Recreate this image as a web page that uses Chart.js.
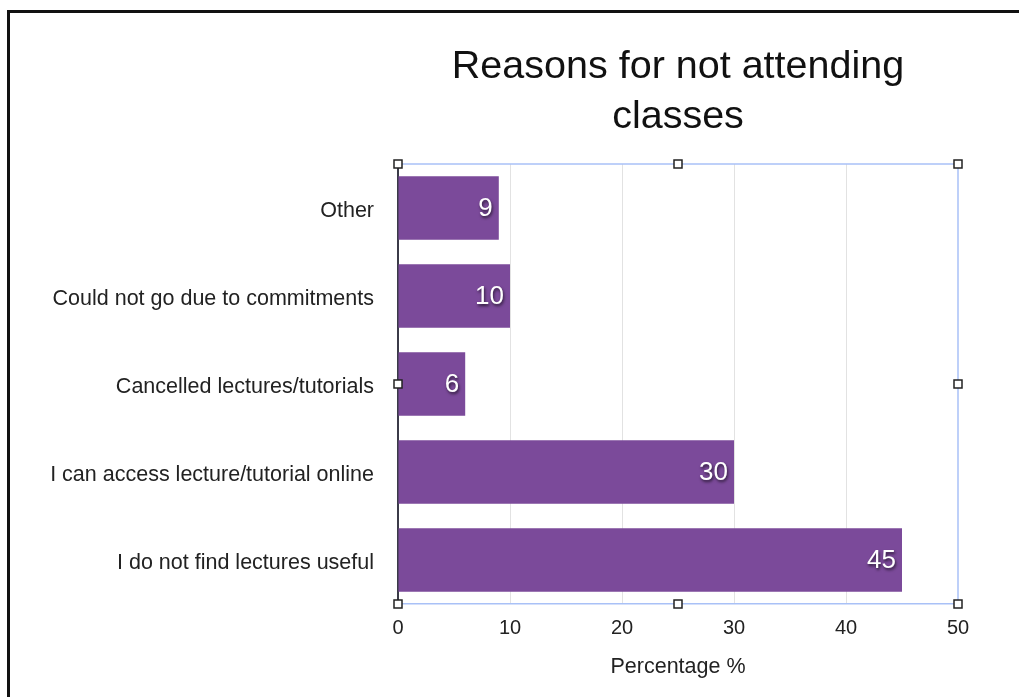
<!DOCTYPE html>
<html>
<head>
<meta charset="utf-8">
<title>Reasons for not attending classes</title>
<script src="https://cdn.jsdelivr.net/npm/chart.js@4"></script>
<style>
  html, body { margin: 0; padding: 0; background: #fff; }
  #marco {
    position: absolute; left: 7px; top: 10px; right: 0; bottom: 0;
    border-top: 3px solid #111; border-left: 3px solid #111;
  }
  #grafico { position: absolute; left: 0; top: 0; }
</style>
</head>
<body>
<div id="marco"></div>
<canvas id="grafico" width="1019" height="697"></canvas>
<script>
// Datos del grafico
let razones = [
  'Other',
  'Could not go due to commitments',
  'Cancelled lectures/tutorials',
  'I can access lecture/tutorial online',
  'I do not find lectures useful'
];
let porcentajes = [9, 10, 6, 30, 45];
let ticksX = [0, 10, 20, 30, 40, 50];

let fuente = "'Liberation Sans', Arial, Helvetica, sans-serif";
let morado = '#7b4a9a';
let azulMarco = '#a9c1f7';

// Titulo centrado sobre el area del grafico
let tituloPlugin = {
  id: 'tituloArea',
  afterDraw(chart) {
    let ctx = chart.ctx;
    let area = chart.chartArea;
    let cx = (area.left + area.right) / 2;
    ctx.save();
    ctx.fillStyle = '#111';
    ctx.font = '39.5px ' + fuente;
    ctx.textAlign = 'center';
    ctx.textBaseline = 'middle';
    ctx.fillText('Reasons for not attending', cx, 67);
    ctx.fillText('classes', cx, 117);
    ctx.restore();
  }
};

// Valores dentro de cada barra
let etiquetasPlugin = {
  id: 'etiquetas',
  afterDatasetsDraw(chart) {
    let ctx = chart.ctx;
    let meta = chart.getDatasetMeta(0);
    ctx.save();
    ctx.font = '26px ' + fuente;
    ctx.fillStyle = '#fff';
    ctx.textAlign = 'right';
    ctx.textBaseline = 'middle';
    ctx.shadowColor = 'rgba(0,0,0,0.65)';
    ctx.shadowOffsetX = 1;
    ctx.shadowOffsetY = 2;
    ctx.shadowBlur = 3;
    meta.data.forEach((barra, i) => {
      ctx.fillText(String(porcentajes[i]), barra.x - 6, barra.y + 1);
    });
    ctx.restore();
  }
};

// Marco de seleccion azul con sus cuadritos
let marcoPlugin = {
  id: 'marcoSeleccion',
  afterDraw(chart) {
    let ctx = chart.ctx;
    let a = chart.chartArea;
    ctx.save();
    ctx.strokeStyle = azulMarco;
    ctx.lineWidth = 1.5;
    ctx.beginPath();
    ctx.moveTo(a.left, a.top);
    ctx.lineTo(a.right, a.top);
    ctx.lineTo(a.right, a.bottom);
    ctx.stroke();

    let cx = (a.left + a.right) / 2;
    let cy = (a.top + a.bottom) / 2;
    let puntos = [
      [a.left, a.top], [cx, a.top], [a.right, a.top],
      [a.left, cy], [a.right, cy],
      [a.left, a.bottom], [cx, a.bottom], [a.right, a.bottom]
    ];
    ctx.fillStyle = '#fff';
    ctx.strokeStyle = '#222';
    ctx.lineWidth = 1.5;
    puntos.forEach(p => {
      ctx.fillRect(p[0] - 4, p[1] - 4, 8, 8);
      ctx.strokeRect(p[0] - 4, p[1] - 4, 8, 8);
    });
    ctx.restore();
  }
};

let config = {
  type: 'bar',
  data: {
    labels: razones,
    datasets: [{
      data: porcentajes,
      backgroundColor: morado,
      borderWidth: 0,
      categoryPercentage: 0.72,
      barPercentage: 1
    }]
  },
  options: {
    indexAxis: 'y',
    responsive: false,
    animation: false,
    layout: { padding: { top: 164, right: 61, left: 0, bottom: 0 } },
    plugins: {
      legend: { display: false },
      tooltip: { enabled: false },
      title: { display: false }
    },
    scales: {
      x: {
        min: 0,
        max: 50,
        afterBuildTicks(scale) {
          scale.ticks = ticksX.map(v => ({ value: v }));
        },
        afterFit(scale) { scale.height = 93; },
        grid: {
          drawTicks: false,
          color: ctx => (ctx.tick && (ctx.tick.value === 0 || ctx.tick.value === 50)) ? 'rgba(0,0,0,0)' : '#e2e2e2',
          lineWidth: 1
        },
        border: { display: true, color: azulMarco, width: 1.5 },
        ticks: {
          padding: 12,
          color: '#222',
          font: { family: fuente, size: 20 }
        },
        title: {
          display: true,
          text: 'Percentage %',
          color: '#222',
          font: { family: fuente, size: 21.5 },
          padding: { top: 0, bottom: 17 }
        }
      },
      y: {
        afterFit(scale) { scale.width = 398; },
        grid: { display: false, drawTicks: false },
        border: { display: true, color: '#3b3b48', width: 2 },
        ticks: {
          padding: 24,
          labelOffset: 3,
          color: '#222',
          font: { family: fuente, size: 21.5 }
        }
      }
    }
  },
  plugins: [tituloPlugin, etiquetasPlugin, marcoPlugin]
};

let graficoRef = document.getElementById('grafico');
let chart1 = new Chart(graficoRef, config);
</script>
</body>
</html>
